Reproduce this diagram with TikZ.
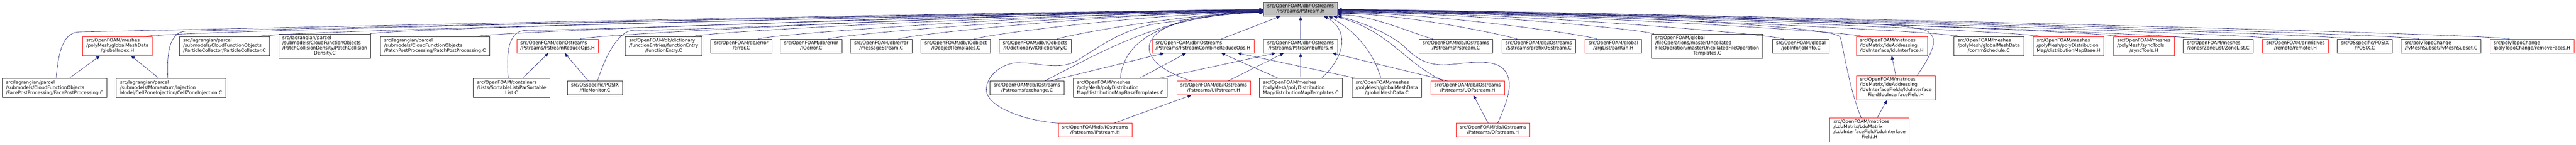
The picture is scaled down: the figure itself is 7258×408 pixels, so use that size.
\documentclass[tikz,border=0pt]{standalone}
\usepackage{fontspec}
\setmainfont{DejaVu Sans}
\usetikzlibrary{arrows.meta}
\definecolor{link_c}{HTML}{191970}
\definecolor{hot_c}{HTML}{FF1A1A}
\definecolor{box_c}{HTML}{333333}
\definecolor{root_c}{HTML}{BFBFBF}
% label: all lines left, last line centred
\newcommand{\flab}[2]{\begin{tabular}{@{}l@{}}#1\\\multicolumn{1}{@{}c@{}}{#2}\end{tabular}}
\begin{document}
\begin{tikzpicture}[
			x=1pt, y=1pt,
			file/.style = {rectangle, draw=box_c, line width=1.2pt, fill=white, inner xsep=10.5pt, inner ysep=5pt, font=\fontsize{13}{14.5}\selectfont},
			hot/.style = {file, draw=hot_c, line width=1pt},
			rootfile/.style = {file, fill=root_c},
			dep/.style = {draw=link_c, line width=0.9pt, -{Triangle[length=11pt,width=9pt]}},
			]
			\path[use as bounding box, fill=white] (0,0) rectangle (7258,-408);
			% the included file
			\node[rootfile] (root) at (3664.5,-26) {\flab{src/OpenFOAM/db/IOstreams}{/Pstreams/Pstream.H}};
			% first row
			\node[hot] (gidx) at (331,-130) {\flab{src/OpenFOAM/meshes\\/polyMesh/globalMeshData}{/globalIndex.H}};
			\node[file] (pcol) at (632.5,-130) {\flab{src/lagrangian/parcel\\/submodels/CloudFunctionObjects}{/ParticleCollector/ParticleCollector.C}};
			\node[file] (pcd) at (915,-130) {\flab{src/lagrangian/parcel\\/submodels/CloudFunctionObjects\\/PatchCollisionDensity/PatchCollision}{Density.C}};
			\node[file] (ppp) at (1225.5,-130) {\flab{src/lagrangian/parcel\\/submodels/CloudFunctionObjects}{/PatchPostProcessing/PatchPostProcessing.C}};
			\node[hot] (pro) at (1571,-130) {\flab{src/OpenFOAM/db/IOstreams}{/Pstreams/PstreamReduceOps.H}};
			\node[file] (fent) at (1870,-130) {\flab{src/OpenFOAM/db/dictionary\\/functionEntries/functionEntry}{/functionEntry.C}};
			\node[file] (err) at (2088.5,-130) {\flab{src/OpenFOAM/db/error}{/error.C}};
			\node[file] (ioerr) at (2285.5,-130) {\flab{src/OpenFOAM/db/error}{/IOerror.C}};
			\node[file] (mstr) at (2483,-130) {\flab{src/OpenFOAM/db/error}{/messageStream.C}};
			\node[file] (iotpl) at (2693,-130) {\flab{src/OpenFOAM/db/IOobject}{/IOobjectTemplates.C}};
			\node[file] (iodict) at (2916.5,-130) {\flab{src/OpenFOAM/db/IOobjects}{/IOdictionary/IOdictionary.C}};
			\node[hot] (pcro) at (3389.5,-130) {\flab{src/OpenFOAM/db/IOstreams}{/Pstreams/PstreamCombineReduceOps.H}};
			\node[hot] (pbuf) at (3664.5,-130) {\flab{src/OpenFOAM/db/IOstreams}{/Pstreams/PstreamBuffers.H}};
			\node[file] (pstC) at (4102,-130) {\flab{src/OpenFOAM/db/IOstreams}{/Pstreams/Pstream.C}};
			\node[file] (posstr) at (4335.5,-130) {\flab{src/OpenFOAM/db/IOstreams}{/Sstreams/prefixOSstream.C}};
			\node[hot] (parrun) at (4545.5,-130) {\flab{src/OpenFOAM/global}{/argList/parRun.H}};
			\node[file] (muf) at (4810,-130) {\flab{src/OpenFOAM/global\\/fileOperations/masterUncollated\\FileOperation/masterUncollatedFileOperation}{Templates.C}};
			\node[file] (jinfo) at (5074,-130) {\flab{src/OpenFOAM/global}{/jobInfo/jobInfo.C}};
			\node[hot] (lduif) at (5330,-130) {\flab{src/OpenFOAM/matrices\\/lduMatrix/lduAddressing}{/lduInterface/lduInterface.H}};
			\node[file] (csched) at (5603.5,-130) {\flab{src/OpenFOAM/meshes\\/polyMesh/globalMeshData}{/commSchedule.C}};
			\node[hot] (dmb) at (5828,-130) {\flab{src/OpenFOAM/meshes\\/polyMesh/polyDistribution}{Map/distributionMapBase.H}};
			\node[hot] (sync) at (6040.5,-130) {\flab{src/OpenFOAM/meshes\\/polyMesh/syncTools}{/syncTools.H}};
			\node[file] (zlist) at (6250,-130) {\flab{src/OpenFOAM/meshes}{/zones/ZoneList/ZoneList.C}};
			\node[hot] (remote) at (6467.5,-130) {\flab{src/OpenFOAM/primitives}{/remote/remoteI.H}};
			\node[file] (posix) at (6663,-130) {\flab{src/OSspecific/POSIX}{/POSIX.C}};
			\node[file] (fvms) at (6878,-130) {\flab{src/polyTopoChange}{/fvMeshSubset/fvMeshSubset.C}};
			\node[hot] (rmf) at (7134,-130) {\flab{src/polyTopoChange}{/polyTopoChange/removeFaces.H}};
			% second row
			\node[file] (fpp) at (154,-248.5) {\flab{src/lagrangian/parcel\\/submodels/CloudFunctionObjects}{/FacePostProcessing/FacePostProcessing.C}};
			\node[file] (czi) at (482,-248.5) {\flab{src/lagrangian/parcel\\/submodels/Momentum/Injection}{Model/CellZoneInjection/CellZoneInjection.C}};
			\node[file] (psl) at (1441.5,-248.5) {\flab{src/OpenFOAM/containers\\/Lists/SortableList/ParSortable}{List.C}};
			\node[file] (fmon) at (1676.5,-248.5) {\flab{src/OSspecific/POSIX}{/fileMonitor.C}};
			\node[file] (exch) at (2893.5,-248.5) {\flab{src/OpenFOAM/db/IOstreams}{/Pstreams/exchange.C}};
			\node[file] (dmbt) at (3156.5,-248.5) {\flab{src/OpenFOAM/meshes\\/polyMesh/polyDistribution}{Map/distributionMapBaseTemplates.C}};
			\node[hot] (uip) at (3419.5,-248.5) {\flab{src/OpenFOAM/db/IOstreams}{/Pstreams/UIPstream.H}};
			\node[file] (dmt) at (3665,-248.5) {\flab{src/OpenFOAM/meshes\\/polyMesh/polyDistribution}{Map/distributionMapTemplates.C}};
			\node[file] (gmd) at (3907.5,-248.5) {\flab{src/OpenFOAM/meshes\\/polyMesh/globalMeshData}{/globalMeshData.C}};
			\node[hot] (uop) at (4135,-248.5) {\flab{src/OpenFOAM/db/IOstreams}{/Pstreams/UOPstream.H}};
			\node[hot] (lduf) at (5341.5,-248) {\flab{src/OpenFOAM/matrices\\/lduMatrix/lduAddressing\\/lduInterfaceFields/lduInterface}{Field/lduInterfaceField.H}};
			% third row
			\node[hot] (ip) at (3085.5,-367.5) {\flab{src/OpenFOAM/db/IOstreams}{/Pstreams/IPstream.H}};
			\node[hot] (op) at (4206.5,-367.5) {\flab{src/OpenFOAM/db/IOstreams}{/Pstreams/OPstream.H}};
			\node[hot] (Lduf) at (5267.5,-367) {\flab{src/OpenFOAM/matrices\\/LduMatrix/LduMatrix\\/LduInterfaceField/LduInterface}{Field.H}};
			% first row to the left of the root
			\foreach \n/\dx/\dy/\len in {gidx/81/-4/460, pcol/98/-6/460, pcd/128/-5/460, ppp/121/-7/460, pro/63/-3/460, fent/84/-8/460, err/47/-6/460, ioerr/48/-9/430, mstr/48/-7/360, iotpl/52/-9/285, iodict/61/-10/205}
				\draw[dep] ([xshift=\dx pt]\n.north) .. controls +(60,17) and +(-\len,0) .. ([yshift=\dy pt]root.west);
			% first row to the right of the root
			\foreach \n/\dx/\dy/\len in {pstC/-65/-16/95, posstr/-61/-12/175, parrun/-45/-10/255, muf/-150/-8/310, jinfo/-48/-7/440, lduif/-82/-6/460, csched/-83/-5/460, dmb/-79/-4/460, sync/-69/-3/460, zlist/-54/-3/460, remote/-49/-2/460, posix/-42/-2/460, fvms/-62/-1/460, rmf/-63/-1/460}
				\draw[dep] ([xshift=\dx pt]\n.north) .. controls +(-60,17) and +(\len,0) .. ([yshift=\dy pt]root.east);
			% lower rows, left part
			\draw[dep] ([xshift=4pt]fpp.north) .. controls +(8,95) and +(-40,-1) .. (225,-90) .. controls +(400,8) and +(-500,0) .. ([yshift=-2pt]root.west);
			\draw[dep] ([xshift=-9pt]czi.north) .. controls +(-5,90) and +(-40,-1) .. (525,-88) .. controls +(400,8) and +(-500,0) .. ([yshift=-3pt]root.west);
			\draw[dep] ([xshift=-9.5pt]psl.north) .. controls +(-8,90) and +(-40,-1) .. (1480,-86) .. controls +(400,6) and +(-500,0) .. ([yshift=-1pt]root.west);
			\draw[dep] ([xshift=7pt]fmon.north) .. controls +(25,80) and +(-35,-4) .. (1780,-86) .. controls +(400,6) and +(-500,0) .. ([yshift=-2pt]root.west);
			\draw[dep] ([xshift=41pt]fpp.north) -- ([xshift=-49pt]gidx.south);
			\draw[dep] ([xshift=-34pt]czi.north) -- ([xshift=38pt]gidx.south);
			\draw[dep] ([xshift=30.5pt]psl.north) -- ([xshift=-26pt]pro.south);
			\draw[dep] ([xshift=-18.5pt]fmon.north) -- ([xshift=20pt]pro.south);
			% lower rows, round the root
			\draw[dep] ([xshift=50.5pt]exch.north) .. controls +(206,108) and +(-260,-6) .. ([yshift=-8pt]root.west);
			\draw[dep] ([xshift=65.5pt]exch.north) -- ([xshift=-109.5pt]pcro.south);
			\draw[dep] (dmbt.north) .. controls +(11,111) and +(-280,-10) .. ([yshift=-9pt]root.west);
			\draw[dep] ([xshift=53.5pt]dmbt.north) -- ([xshift=-47.5pt]pcro.south);
			\draw[dep] ([xshift=108.5pt]dmbt.north) -- ([xshift=-70.5pt]pbuf.south);
			\draw[dep] ([xshift=-62.5pt]uip.north) .. controls +(-187,58) and +(-380,-7) .. ([yshift=-7pt]root.west);
			\draw[dep] ([xshift=40.5pt]uip.north) -- ([xshift=-47.5pt]pbuf.south);
			\draw[dep] (ip.north west) .. controls (2880,-340) and (2779,-300) .. (2779,-253)
				.. controls (2779,-210) and (2830,-177) .. (2867,-177)
				.. controls (2930,-177) and (2985,-200) .. (3036,-170)
				.. controls (3087,-140) and (3160,-80) .. (3265,-66)
				.. controls (3370,-52) and (3450,-37) .. ([yshift=-6pt]root.west);
			\draw[dep] ([xshift=53.5pt]ip.north) -- ([xshift=-62.5pt]uip.south);
			\draw[dep] ([xshift=51.5pt]pcro.north) -- ([xshift=-57.5pt]root.south);
			\draw[dep] (pbuf.north) -- (root.south);
			\draw[dep] (dmt.north) -- (pbuf.south);
			\draw[dep] ([xshift=-63pt]dmt.north) -- ([xshift=51.5pt]pcro.south);
			\draw[dep] ([xshift=58pt]dmt.north) .. controls +(77,71) and +(64,-34) .. ([xshift=66pt]root.south);
			\draw[dep] ([xshift=-85.5pt]gmd.north) -- ([xshift=97.5pt]pcro.south);
			\draw[dep] ([xshift=-16.5pt]gmd.north) .. controls +(-21,71) and +(80,-44) .. ([xshift=79pt]root.south);
			\draw[dep] ([xshift=-56pt]uop.north) -- ([xshift=89.5pt]pbuf.south);
			\draw[dep] ([xshift=-68pt]uop.north) .. controls +(-107,48) and +(152,-34) .. ([xshift=92pt]root.south);
			\draw[dep] ([xshift=-13.5pt]op.north) -- ([xshift=16pt]uop.south);
			\draw[dep] ([xshift=13.5pt]op.north) .. controls (4245,-290) and (4270,-230) .. (4236,-195)
				.. controls (4202,-160) and (4110,-183) .. (4067,-183)
				.. controls (4020,-183) and (3990,-165) .. (3960,-135)
				.. controls (3920,-95) and (3830,-60) .. (root.south east);
			% lower rows, matrices
			\draw[dep] (lduf.north) -- (lduif.south);
			\draw[dep] ([xshift=21.5pt]Lduf.north) -- ([xshift=-24.5pt]lduf.south);
			\draw[dep] ([xshift=59.5pt]lduf.north) .. controls +(44,63) and +(50,-16) .. (5420,-84)
				.. controls +(-100,32) and +(600,0) .. ([yshift=-11pt]root.east);
			\draw[dep] ([xshift=-23.5pt]Lduf.north) .. controls +(-34,82) and +(10,-35) .. (5185,-105)
				.. controls +(-10,35) and +(600,0) .. ([yshift=-9pt]root.east);
		\end{tikzpicture}
\end{document}
